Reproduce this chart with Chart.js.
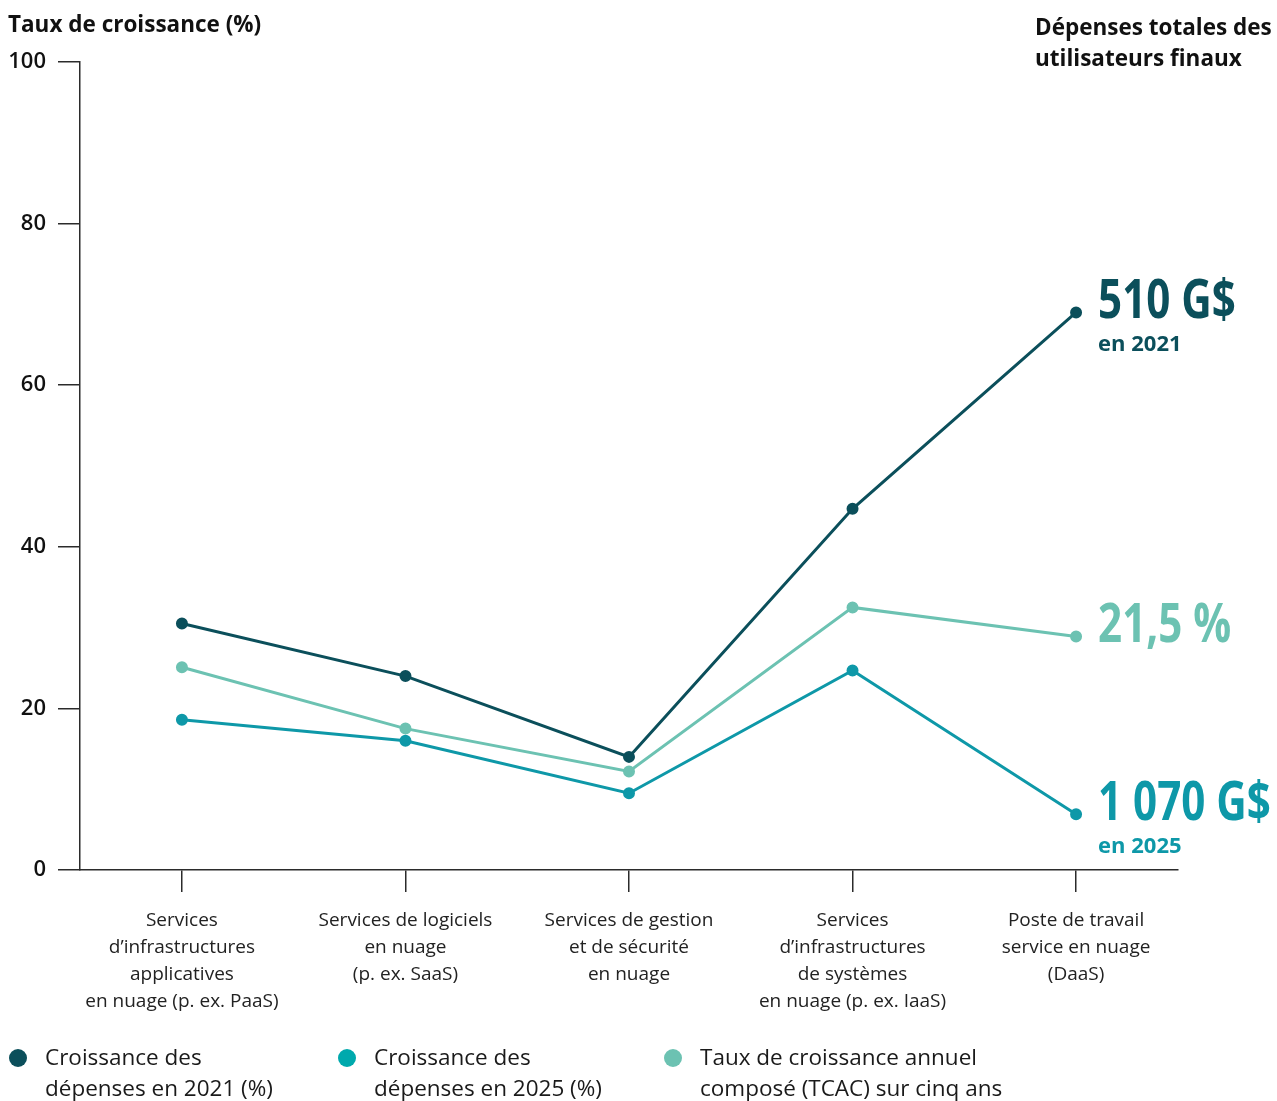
<!DOCTYPE html>
<html lang="fr">
<head>
<meta charset="utf-8">
<title>Taux de croissance des dépenses en nuage</title>
<script src="https://cdn.jsdelivr.net/npm/chart.js@4/dist/chart.umd.min.js"></script>
<style>
  html, body { margin: 0; padding: 0; background: #ffffff; }
  #wrap { position: relative; width: 1277px; height: 1101px; }
</style>
</head>
<body>
<div id="wrap"><canvas id="chart"></canvas></div>
<script>
// Categories (x axis), one multi-line label each
const categories = [
  ["Services", "d’infrastructures", "applicatives", "en nuage (p. ex. PaaS)"],
  ["Services de logiciels", "en nuage", "(p. ex. SaaS)"],
  ["Services de gestion", "et de sécurité", "en nuage"],
  ["Services", "d’infrastructures", "de systèmes", "en nuage (p. ex. IaaS)"],
  ["Poste de travail", "service en nuage", "(DaaS)"]
];

// Growth rates (%)
const growth2021 = [30.5, 24.0, 14.0, 44.7, 69.0];
const growth2025 = [18.6, 16.0, 9.5, 24.7, 6.9];
const cagr5y     = [25.1, 17.5, 12.2, 32.5, 28.9];

// Series names for the legend
const seriesNames = [
  ["Croissance des", "dépenses en 2021 (%)"],
  ["Croissance des", "dépenses en 2025 (%)"],
  ["Taux de croissance annuel", "composé (TCAC) sur cinq ans"]
];

// Total end-user spending, written next to the last point of each series
const totals    = ["510 G$", "1 070 G$", "21,5 %"];
const totalsSub = ["en 2021", "en 2025", ""];

// Y axis ticks
const yTicks = [0, 20, 40, 60, 80, 100];

const colors = ["#0b4f5b", "#0e98a8", "#6cc2b2"];
const legendColors = ["#0b4f5b", "#00a9ad", "#6cc2b2"];

const FONT = "'Open Sans', 'Noto Sans', sans-serif";
const AXIS = "#2b2b2b";

function toPoints(values) {
  return values.map((v, i) => ({ x: i, y: v }));
}

const seriesValues = [growth2021, growth2025, cagr5y];

const datasets = seriesValues.map((vals, k) => ({
  label: seriesNames[k].join(" "),
  data: toPoints(vals),
  borderColor: colors[k],
  backgroundColor: colors[k],
  pointBackgroundColor: colors[k],
  pointBorderColor: colors[k],
  borderWidth: 3,
  pointRadius: 4.5,
  pointHoverRadius: 4.5,
  tension: 0,
  fill: false
}));

// Titles, callouts and legend drawn on the canvas
const decorations = {
  id: "decorations",
  afterDraw(chart) {
    const ctx = chart.ctx;
    const x = chart.scales.x;
    const y = chart.scales.y;
    ctx.save();

    // Axis titles
    ctx.fillStyle = "#111111";
    ctx.textBaseline = "alphabetic";
    ctx.textAlign = "left";
    ctx.font = "bold 22.5px " + FONT;
    ctx.fillText("Taux de croissance (%)", 8, 32);
    ctx.fillText("Dépenses totales des", 1035, 35);
    ctx.fillText("utilisateurs finaux", 1035, 66);

    // Callouts beside the final point of each series
    chart.data.datasets.forEach((ds, k) => {
      const last = ds.data[ds.data.length - 1];
      const py = y.getPixelForValue(last.y);
      const px = x.getPixelForValue(last.x) + 22;
      ctx.fillStyle = colors[k];
      ctx.save();
      ctx.translate(px, py + 6);
      ctx.scale(0.78, 1);
      ctx.font = "bold 54px " + FONT;
      ctx.fillText(totals[k], 0, 0);
      ctx.restore();
      if (totalsSub[k]) {
        ctx.font = "bold 22px " + FONT;
        ctx.fillText(totalsSub[k], px, py + 39);
      }
    });

    // Legend
    const legendX = [18, 347, 673];
    const legendY = 1058;
    ctx.font = "22.5px " + FONT;
    ctx.textBaseline = "middle";
    seriesNames.forEach((lines, k) => {
      ctx.fillStyle = legendColors[k];
      ctx.beginPath();
      ctx.arc(legendX[k], legendY, 9, 0, Math.PI * 2);
      ctx.fill();
      ctx.fillStyle = "#1a1a1a";
      lines.forEach((line, j) => {
        ctx.fillText(line, legendX[k] + 27, legendY + 1 + j * 31);
      });
    });
    ctx.restore();
  }
};

new Chart(document.getElementById("chart"), {
  type: "line",
  data: { datasets },
  plugins: [decorations],
  options: {
    responsive: true,
    maintainAspectRatio: false,
    animation: false,
    layout: { padding: { top: 62, right: 99, left: 0, bottom: 0 } },
    plugins: {
      legend: { display: false },
      tooltip: { enabled: false },
      title: { display: false }
    },
    scales: {
      x: {
        type: "linear",
        min: -0.456,
        max: 4.456,
        afterBuildTicks(scale) {
          scale.ticks = categories.map((_, i) => ({ value: i }));
        },
        afterFit(scale) { scale.height = 231; },
        ticks: {
          autoSkip: false,
          maxRotation: 0,
          padding: 15,
          color: "#222222",
          font: { family: FONT, size: 19, lineHeight: 1.42 },
          callback: (value) => categories[value] || ""
        },
        grid: {
          display: true,
          drawOnChartArea: false,
          drawTicks: true,
          tickLength: 22,
          color: AXIS,
          lineWidth: 1.5
        },
        border: { display: true, color: AXIS, width: 1.5 }
      },
      y: {
        min: 0,
        max: 100,
        afterBuildTicks(scale) {
          scale.ticks = yTicks.map(v => ({ value: v }));
        },
        afterFit(scale) { scale.width = 80; },
        ticks: {
          padding: 12,
          color: "#111111",
          font: { family: FONT, size: 22, weight: "600" }
        },
        grid: {
          display: true,
          drawOnChartArea: false,
          drawTicks: true,
          tickLength: 22,
          color: AXIS,
          lineWidth: 1.5
        },
        border: { display: true, color: AXIS, width: 1.5 }
      }
    }
  }
});
</script>
</body>
</html>
